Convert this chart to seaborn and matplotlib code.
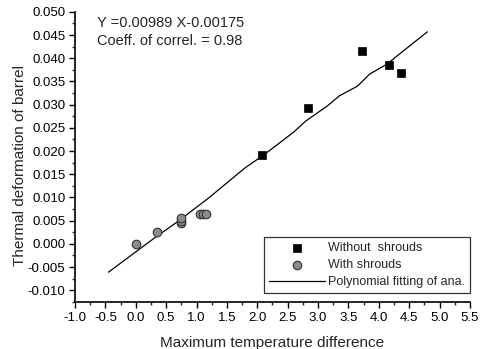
import numpy as np
import pandas as pd
import matplotlib
matplotlib.use("Agg")
import matplotlib.pyplot as plt
import seaborn as sns
from matplotlib.ticker import MultipleLocator, FormatStrFormatter

# data
x_without = [2.08, 2.83, 3.73, 4.16, 4.37]
y_without = [0.0191, 0.0292, 0.0415, 0.0385, 0.0368]

x_with = [0.0, 0.35, 0.75, 0.75, 0.75, 1.05, 1.10, 1.15]
y_with = [0.0, 0.0025, 0.0045, 0.0050, 0.0055, 0.0065, 0.0065, 0.0065]

x_fit = [-0.45, 0.3, 0.7, 1.2, 1.8, 2.1, 2.6, 2.8, 3.15, 3.35, 3.65, 3.85, 4.13, 4.3, 4.8]
y_fit = [-0.0061, 0.0012, 0.0049, 0.0099, 0.0164, 0.0191, 0.0241, 0.0265,
         0.0297, 0.0319, 0.0340, 0.0366, 0.0387, 0.0405, 0.0457]

sns.set_style("ticks")
plt.rcParams['font.family'] = ['Liberation Sans', 'DejaVu Sans']

fig = plt.figure(figsize=(4.81, 3.49), dpi=100)
ax = fig.add_axes([0.156, 0.135, 0.821, 0.831])

sns.lineplot(x=x_fit, y=y_fit, ax=ax, color='black', linewidth=0.9,
             label='Polynomial fitting of ana.', sort=False, zorder=2)
sns.scatterplot(x=x_without, y=y_without, ax=ax, marker='s', s=38, color='black',
                edgecolor='black', label='Without  shrouds', zorder=3)
sns.scatterplot(x=x_with, y=y_with, ax=ax, marker='o', s=38, color='#8c8c8c',
                edgecolor='#333333', linewidth=0.8, label='With shrouds', zorder=3)

ax.set_xlim(-1.0, 5.5)
ax.set_ylim(-0.0125, 0.050)
ax.xaxis.set_major_locator(MultipleLocator(0.5))
ax.xaxis.set_minor_locator(MultipleLocator(0.25))
ax.yaxis.set_major_locator(MultipleLocator(0.005))
ax.yaxis.set_minor_locator(MultipleLocator(0.0025))
ax.xaxis.set_major_formatter(FormatStrFormatter('%.1f'))
ax.yaxis.set_major_formatter(FormatStrFormatter('%.3f'))
ax.tick_params(which='major', length=4, width=1, labelsize=9.5, colors='black', pad=3)
ax.tick_params(which='minor', length=2.5, width=1)
sns.despine(ax=ax)
for s in ['left', 'bottom']:
    ax.spines[s].set_linewidth(1.2)
    ax.spines[s].set_color('black')

ax.set_xlabel("Maximum temperature difference", fontsize=11, labelpad=9)
ax.set_ylabel("Thermal deformation of barrel", fontsize=11)
ax.yaxis.set_label_coords(-0.122, 0.47)

ax.text(0.055, 0.985, "Y =0.00989 X-0.00175\nCoeff. of correl. = 0.98",
        transform=ax.transAxes, fontsize=10.5, va='top', ha='left', linespacing=1.3)

h, l = ax.get_legend_handles_labels()
order = [1, 2, 0]
leg = ax.legend([h[i] for i in order], [l[i] for i in order], loc='lower right',
                bbox_to_anchor=(1.0, 0.03), fontsize=9, frameon=True, fancybox=False,
                edgecolor='black', handlelength=4.5, handletextpad=0.2, borderpad=0.4,
                labelspacing=0.4, borderaxespad=0)
leg.get_frame().set_linewidth(0.9)

fig.savefig("out.png", dpi=100)
